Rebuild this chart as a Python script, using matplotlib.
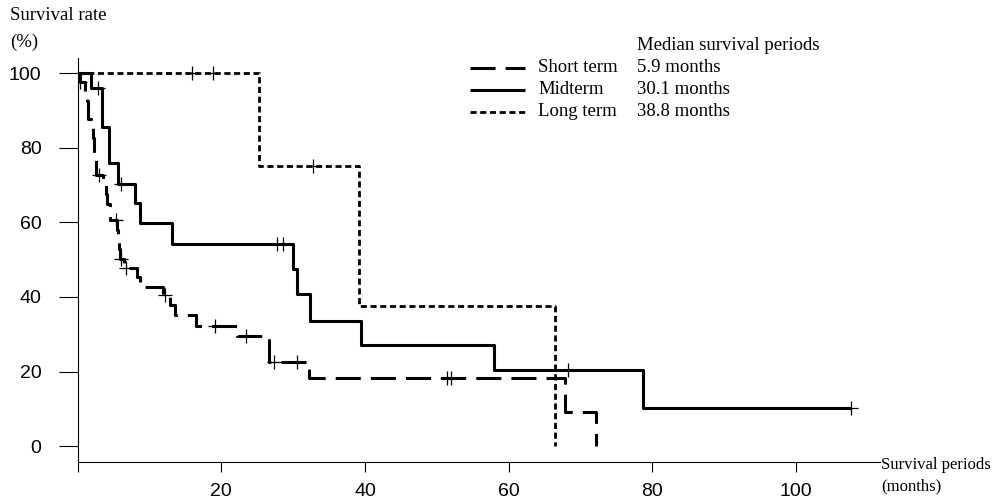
import numpy as np
import matplotlib
matplotlib.use("Agg")
import matplotlib.pyplot as plt
from matplotlib.lines import Line2D

# Kaplan-Meier steps: time of each drop (months), survival after it (%)
short_t = [0, 0.3, 1.0, 1.3, 1.5, 1.9, 2.1, 2.3, 2.6, 3.6, 3.9, 4.1, 4.5, 5.5, 5.6, 5.7,
           5.9, 6.4, 8.3, 8.7, 11.9, 12.9, 13.6, 16.5, 22.2, 26.6, 32.2, 67.9, 72.2]
short_s = [100, 97.6, 95.0, 92.4, 87.7, 85.2, 82.6, 77.6, 72.6, 70.0, 67.5, 65.0, 60.5, 58.0, 55.4, 52.8,
           50.2, 47.9, 45.4, 42.8, 40.5, 37.9, 35.3, 32.3, 29.6, 22.7, 18.2, 9.1, 0]
short_cens = [0.4, 3.0, 5.3, 6.1, 6.8, 12.2, 19.1, 23.5, 27.3, 30.5, 51.4, 52.0]

mid_t = [0, 1.8, 3.4, 4.4, 5.6, 8.0, 8.7, 13.1, 30.0, 30.6, 32.4, 39.4, 58.0, 78.7, 107.7]
mid_s = [100, 95.9, 85.6, 75.8, 70.4, 65.1, 59.7, 54.2, 47.5, 40.7, 33.7, 27.1, 20.4, 10.2, 10.2]
mid_cens = [2.8, 6.1, 27.7, 28.6, 68.2, 107.7]

long_t = [0, 25.2, 39.2, 66.4]
long_s = [100, 75, 37.5, 0]
long_cens = [15.9, 18.9, 32.7]

group_names = ["Short term", "Midterm", "Long term"]
medians = ["5.9 months", "30.1 months", "38.8 months"]

x_ticks = [0, 20, 40, 60, 80, 100]
x_ticklabels = ["", "20", "40", "60", "80", "100"]
y_ticks = [0, 20, 40, 60, 80, 100]

SERIF = "Liberation Serif"
SANS = "Liberation Sans"

W, H = 993, 499
styles = [
    dict(lw=2.2, ls=(0, (8.2, 3.3))),
    dict(lw=2.2, ls="-"),
    dict(lw=2.0, ls=(0, (2.2, 1.3))),
]


def censor_y(times, surv, cens):
    idx = np.searchsorted(times, cens, side="right") - 1
    return np.asarray(surv)[idx]


fig = plt.figure(figsize=(W / 100, H / 100), dpi=100)
ax = fig.add_axes([77.6 / W, 1 - 462 / H, (880 - 77.6) / W, (462 - 57.7) / H])

curves = [(short_t, short_s, short_cens), (mid_t, mid_s, mid_cens), (long_t, long_s, long_cens)]
for (t, s, c), st in zip(curves, styles):
    ax.step(t, s, where="post", color="black", solid_capstyle="butt", **st)
    ax.plot(c, censor_y(t, s, c), ls="none", marker="+", ms=10, mew=0.9, color="black")

ax.set_xlim(0, 111.7)
ax.set_ylim(-4.2, 104.1)
ax.set_xticks(x_ticks, x_ticklabels)
ax.set_yticks(y_ticks)
for lab in ax.get_xticklabels() + ax.get_yticklabels():
    lab.set_fontfamily(SANS)
    lab.set_fontsize(14)
ax.tick_params(axis="y", length=14, width=0.8, pad=12)
ax.tick_params(axis="x", length=7, width=0.8, pad=8)
ax.spines["top"].set_visible(False)
ax.spines["right"].set_visible(False)
for side in ("left", "bottom"):
    ax.spines[side].set_linewidth(0.8)

# axis titles
fig.text(10 / W, 1 - 16 / H, "Survival rate", family=SERIF, fontsize=13.5, va="center", ha="left")
fig.text(10 / W, 1 - 42 / H, "(%)", family=SERIF, fontsize=13.5, va="center", ha="left")
fig.text(881 / W, 1 - 465 / H, "Survival periods", family=SERIF, fontsize=12, va="center", ha="left")
fig.text(881 / W, 1 - 486 / H, "(months)", family=SERIF, fontsize=12, va="center", ha="left")

# hand-made legend with median survival column
fig.text(637 / W, 1 - 45 / H, "Median survival periods", family=SERIF, fontsize=13.5, va="center")
row_y = [68, 90, 112]
for name, med, st, yy in zip(group_names, medians, styles, row_y):
    fig.add_artist(Line2D([470 / W, 525 / W], [1 - yy / H, 1 - yy / H], color="black",
                          transform=fig.transFigure, solid_capstyle="butt", **st))
    fig.text(538 / W, 1 - yy / H, name, family=SERIF, fontsize=13.5, va="center")
    fig.text(637 / W, 1 - yy / H, med, family=SERIF, fontsize=13.5, va="center")

fig.savefig("out.png", dpi=100)
